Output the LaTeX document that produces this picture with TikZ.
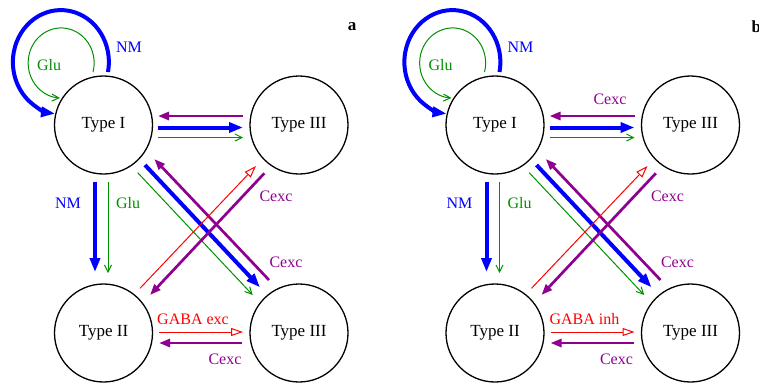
\documentclass[tikz,border=0pt]{standalone}
\usepackage{fontspec}
\setmainfont{Liberation Serif}
\usetikzlibrary{arrows.meta}
\definecolor{nmblue}{RGB}{0,0,255}
\definecolor{glugreen}{RGB}{0,144,0}
\definecolor{cexcpurple}{RGB}{144,0,144}
\definecolor{gabared}{RGB}{255,0,0}
\tikzset{
  cell/.style={draw, circle, line width=1.3pt, minimum size=98pt, inner sep=0pt, font=\fontsize{17}{20}\selectfont},
  nmarrow/.style={draw=nmblue, line width=4pt, -{Triangle[length=14pt,width=10pt]}},
  gluarrow/.style={draw=glugreen, line width=1pt, -{Straight Barb[length=7pt,width=7pt]}},
  cexcarrow/.style={draw=cexcpurple, line width=2.7pt, -{Triangle[length=11pt,width=8pt]}},
  gabaarrow/.style={draw=gabared, line width=1pt, -{Triangle[open,length=12pt,width=8pt]}},
  lbl/.style={font=\fontsize{16}{19}\selectfont, inner sep=0pt},
  nmlbl/.style={lbl, text=nmblue},
  glulbl/.style={lbl, text=glugreen},
  cexclbl/.style={lbl, text=cexcpurple},
  gabalbl/.style={lbl, text=gabared},
  panellbl/.style={font=\fontsize{17}{20}\selectfont\bfseries, inner sep=0pt}
}
\newcommand\drawpanel[3]{%
\begin{scope}[xshift=#2]
  \node[cell] (t1#1) at (103.5,125) {Type I};
  \node[cell] (t3#1) at (299,125) {Type III};
  \node[cell] (t2#1) at (103.5,333) {Type II};
  \node[cell] (t4#1) at (299,333) {Type III};
  % self loops
  \draw[nmarrow] ([shift={(4.5,-53)}]t1#1.center) arc[start angle=-11, end angle=263, x radius=48pt, y radius=52pt];
  \draw[gluarrow] ([shift={(-10.5,-53)}]t1#1.center) arc[start angle=-15, end angle=268, x radius=33pt, y radius=35pt];
  \node[nmlbl] (lnmloop#1) at (129,47) {NM};
  \node[glulbl] (lgluloop#1) at (49,65) {Glu};
  % top row
  \draw[cexcarrow] ([shift={(-56,-9)}]t3#1.center) -- ([shift={(54.5,-9)}]t1#1.center);
  \draw[nmarrow] ([shift={(54.5,2.5)}]t1#1.center) -- ([shift={(-56,2.5)}]t3#1.center);
  \draw[gluarrow] ([shift={(54.5,12.5)}]t1#1.center) -- ([shift={(-56,12.5)}]t3#1.center);
  % vertical
  \draw[nmarrow] ([shift={(-8.5,57)}]t1#1.center) -- ([shift={(-8.5,-61)}]t2#1.center);
  \draw[gluarrow] ([shift={(4.5,57)}]t1#1.center) -- ([shift={(4.5,-60)}]t2#1.center);
  \node[nmlbl] (lnmv#1) at (68,203) {NM};
  \node[glulbl] (lgluv#1) at (128,203) {Glu};
  % diagonals
  \draw[gluarrow] ([shift={(34.2,47.7)}]t1#1.center) -- ([shift={(-46.3,-38)}]t4#1.center);
  \draw[nmarrow] ([shift={(41.5,40)}]t1#1.center) -- ([shift={(-39,-45.7)}]t4#1.center);
  \draw[cexcarrow] ([shift={(-30,-53)}]t4#1.center) -- ([shift={(50.8,34)}]t1#1.center);
  \draw[gabaarrow] ([shift={(36.5,-44.7)}]t2#1.center) -- ([shift={(-43,41)}]t3#1.center);
  \draw[cexcarrow] ([shift={(-34.7,48.3)}]t3#1.center) -- ([shift={(46.5,-38)}]t2#1.center);
  \node[cexclbl] (lcexcd1#1) at (276,196) {Cexc};
  \node[cexclbl] (lcexcd2#1) at (286,262) {Cexc};
  % bottom row
  \draw[gabaarrow] ([shift={(55.5,-1)}]t2#1.center) -- ([shift={(-56,-1)}]t4#1.center);
  \draw[cexcarrow] ([shift={(-57,10)}]t4#1.center) -- ([shift={(55.5,10)}]t2#1.center);
  \node[gabalbl] (lgaba#1) at (193,319) {#3};
  \node[cexclbl] (lcexcb#1) at (225,359) {Cexc};
\end{scope}}
\begin{document}
\begin{tikzpicture}[x=1pt,y=-1pt]
  \useasboundingbox (0,0) rectangle (759,384);
  \drawpanel{a}{0pt}{GABA exc}
  \drawpanel{b}{391.5pt}{GABA inh}
  \node[cexclbl] (lcexctopb) at (610,99) {Cexc};
  \node[panellbl] (pa) at (352,27) {a};
  \node[panellbl, anchor=west] (pb) at (751.5,27) {b};
\end{tikzpicture}
\end{document}
